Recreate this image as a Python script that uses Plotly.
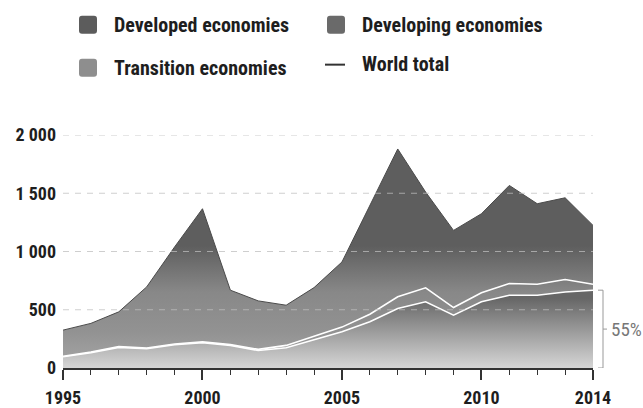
import plotly.graph_objects as go

years = list(range(1995, 2015))
developing = [97, 131, 177, 165, 200, 217, 194, 150, 174, 245, 311, 397, 511, 568, 454, 568, 625, 625, 653, 668]
transition = [4, 6, 8, 7, 6, 7, 8, 10, 20, 30, 40, 65, 100, 120, 65, 77, 100, 94, 106, 51]
world_total = [325, 383, 482, 696, 1039, 1367, 668, 576, 539, 690, 910, 1396, 1880, 1510, 1181, 1324, 1567, 1410, 1461, 1224]
developed = [t - d - r for t, d, r in zip(world_total, developing, transition)]

y_ticks = [0, 500, 1000, 1500, 2000]
y_ticktext = ["0", "500", "1 000", "1 500", "2 000"]
x_ticks = [1995, 2000, 2005, 2010, 2014]
share_label = "55%"

FONT = "Roboto Condensed, Liberation Sans Narrow, Roboto, sans-serif"

dev_plus_trans = [d + r for d, r in zip(developing, transition)]

upper_scale = [[0, "#a6a6a6"], [0.3, "#929292"], [0.62, "#888888"], [1, "#5e5e5e"]]

fig = go.Figure()
fig.add_trace(go.Scatter(
    x=years, y=developing, mode="lines", fill="tozeroy",
    line=dict(color="white", width=1.6),
    fillgradient=dict(type="vertical", start=0, stop=600,
                      colorscale=[[0, "#d6d6d6"], [1, "#666666"]]),
    name="Developing economies", showlegend=False, hoverinfo="skip"))
fig.add_trace(go.Scatter(
    x=years, y=dev_plus_trans, mode="lines", fill="tonexty",
    line=dict(color="white", width=1.6),
    fillgradient=dict(type="vertical", start=0, stop=1050, colorscale=upper_scale),
    name="Transition economies", showlegend=False, hoverinfo="skip"))
fig.add_trace(go.Scatter(
    x=years, y=world_total, mode="lines", fill="tonexty",
    line=dict(color="#4a4a4a", width=1),
    fillgradient=dict(type="vertical", start=0, stop=1050, colorscale=upper_scale),
    name="World total", showlegend=False, hoverinfo="skip"))

shapes = []
for v in y_ticks[1:]:
    shapes.append(dict(type="line", xref="paper", yref="y", x0=0, x1=1, y0=v, y1=v,
                       line=dict(color="rgba(190,190,190,0.75)", width=1.2, dash="6px,6px"),
                       layer="above"))

L, T, W, H = 63, 134.5, 530, 233.5
def px(xp):
    return (xp - L) / W
def py(yp):
    return (T + H - yp) / H

def rsq(x0, y0, x1, y1, col, r=3):
    path = (f"M {px(x0+r)},{py(y0)} L {px(x1-r)},{py(y0)} Q {px(x1)},{py(y0)} {px(x1)},{py(y0+r)} "
            f"L {px(x1)},{py(y1-r)} Q {px(x1)},{py(y1)} {px(x1-r)},{py(y1)} "
            f"L {px(x0+r)},{py(y1)} Q {px(x0)},{py(y1)} {px(x0)},{py(y1-r)} "
            f"L {px(x0)},{py(y0+r)} Q {px(x0)},{py(y0)} {px(x0+r)},{py(y0)} Z")
    return dict(type="path", xref="paper", yref="paper", path=path,
                fillcolor=col, line=dict(width=0), layer="above")

shapes.append(rsq(79, 15, 97, 33, "#5c5c5c"))
shapes.append(rsq(327, 15, 345, 33, "#6a6a6a"))
shapes.append(rsq(79, 58, 97, 76, "#8e8e8e"))
shapes.append(dict(type="line", xref="paper", yref="paper", x0=px(325), x1=px(345),
                   y0=py(64), y1=py(64), line=dict(color="#333", width=2)))

bx = 603
shapes.append(dict(type="line", xref="paper", yref="y", x0=px(bx), x1=px(bx),
                   y0=0, y1=developing[-1], line=dict(color="#999", width=1)))
for yv in (0, developing[-1]):
    shapes.append(dict(type="line", xref="paper", yref="y", x0=px(bx - 5), x1=px(bx),
                       y0=yv, y1=yv, line=dict(color="#999", width=1)))
shapes.append(dict(type="line", xref="paper", yref="y", x0=px(bx), x1=px(bx + 4),
                   y0=developing[-1] / 2, y1=developing[-1] / 2, line=dict(color="#999", width=1)))

annotations = []
def legtext(x, y, t):
    annotations.append(dict(text=t, xref="paper", yref="paper", x=px(x), y=py(y),
                            xanchor="left", yanchor="middle", showarrow=False,
                            font=dict(family=FONT, size=20, color="#1e1e1e", weight="bold")))
legtext(112, 24, "Developed economies")
legtext(360, 24, "Developing economies")
legtext(112, 67, "Transition economies")
legtext(360, 63, "World total")

annotations.append(dict(text=share_label, xref="paper", yref="y", x=px(bx + 6),
                        y=developing[-1] / 2, xanchor="left", yanchor="middle", showarrow=False,
                        font=dict(family=FONT, size=19, color="#777")))

fig.update_layout(
    width=643, height=408,
    margin=dict(l=L, r=643 - L - W, t=T, b=408 - T - H, autoexpand=False),
    paper_bgcolor="white", plot_bgcolor="white",
    showlegend=False,
    shapes=shapes, annotations=annotations,
    xaxis=dict(range=[1995, 2014], tickvals=x_ticks, ticks="outside", ticklen=10,
               tickcolor="#333", tickwidth=1.5, showgrid=False, zeroline=False,
               showline=True, linecolor="#333", linewidth=1.5,
               ticklabelstandoff=3,
               minor=dict(dtick=1, tick0=1995, ticks="outside", ticklen=5,
                          tickcolor="#333", tickwidth=1.2, showgrid=False),
               tickfont=dict(family=FONT, size=18, color="#1e1e1e", weight="bold")),
    yaxis=dict(range=[0, 2000], tickvals=y_ticks, ticktext=y_ticktext,
               showgrid=False, zeroline=False, showline=False, ticks="",
               ticklabelstandoff=6,
               tickfont=dict(family=FONT, size=18, color="#1e1e1e", weight="bold")),
)

fig.write_html("out.html", config={"displayModeBar": False},
               post_script="document.body.style.margin='0';")
